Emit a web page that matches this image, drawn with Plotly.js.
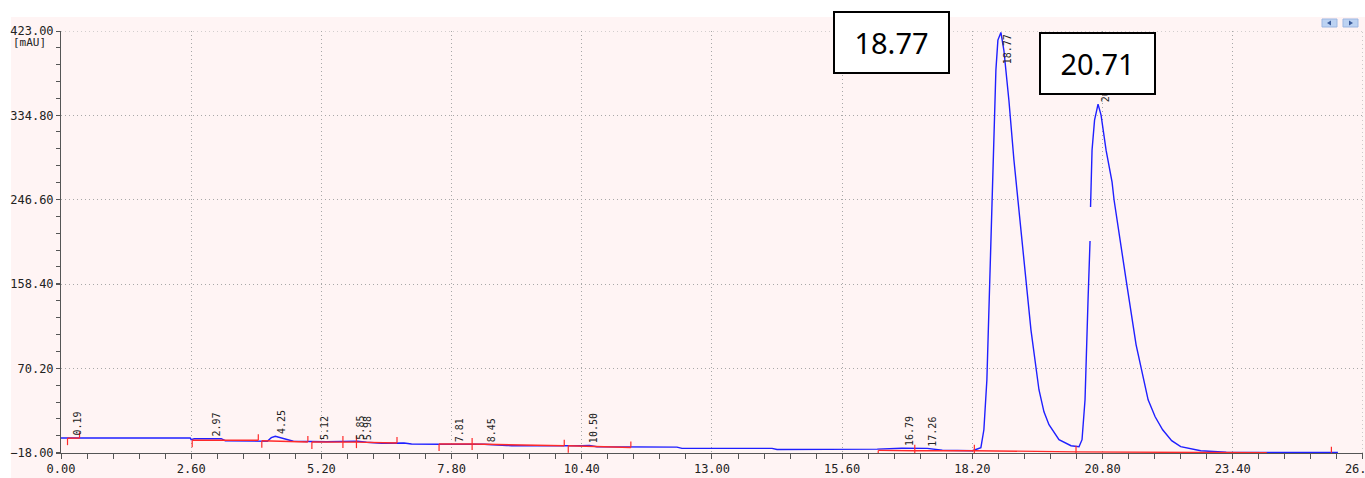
<!DOCTYPE html>
<html>
<head>
<meta charset="utf-8">
<script src="https://cdn.plot.ly/plotly-3.0.1.min.js"></script>
<style>
html,body{margin:0;padding:0;background:#ffffff;}
#chart{width:1365px;height:478px;}
</style>
</head>
<body>
<div id="chart"></div>
<script>
// ---- Chromatogram signal (time in min, absorbance in mAU) ----
const signalTime = [0.00, 2.58, 2.60, 2.66, 3.20, 3.28, 4.12, 4.20, 4.28, 4.38, 4.50, 4.64, 5.30, 5.80, 5.92, 6.10, 6.40, 6.85, 7.00, 7.60, 8.45, 8.90, 9.00, 10.40, 10.55, 10.70, 12.30, 12.40, 14.20, 14.30, 16.00, 16.30, 16.79, 17.30, 17.60, 18.20,
  18.37, 18.43, 18.49, 18.55, 18.61, 18.67, 18.71, 18.77, 18.83, 18.93, 19.03, 19.13, 19.25, 19.37, 19.53, 19.63, 19.73, 19.93, 20.17, 20.33,
  20.39, 20.45, 20.51, 20.55, null, 20.56, 20.59, 20.64, 20.71, 20.77, 20.87, 20.99, 21.03, 21.27, 21.47, 21.71, 21.85, 22.00, 22.18, 22.36, 22.76, 23.27, 24.16, 25.50];
const signalValue = [-2.3, -2.3, -4.1, -3.1, -3.1, -5.2, -5.7, -2.0, -0.5, -2.0, -3.1, -5.7, -6.2, -6.2, -5.6, -6.7, -7.8, -7.6, -8.6, -8.8, -8.8, -10.1, -10.4, -10.4, -10.0, -11.4, -11.9, -13.2, -13.2, -14.3, -14.6, -14.0, -13.0, -13.2, -15.1, -15.6,
  -12.5, 6.3, 58.5, 162.9, 288.2, 382.2, 413.5, 421.5, 402.6, 350.4, 288.2, 236.0, 173.4, 110.7, 48.1, 25.0, 11.6, -4.1, -10.4, -11.4,
  -4.1, 37.6, 142.0, 203.6, null, 239.1, 298.5, 329.9, 346.6, 335.1, 298.5, 265.1, 246.4, 162.9, 95.0, 37.6, 19.9, 6.3, -5.1, -11.4, -15.6, -17.2, -17.5, -17.5];

// ---- Integration baselines (red) ----
const baseStart      = [0.13, 2.62, 4.01, 5.01, 5.63, 5.90, 7.55, 8.21, 10.13, 16.32, 17.05, 18.24, 20.27];
const baseEnd        = [0.37, 3.94, 4.93, 5.63, 5.90, 6.71, 8.21, 10.05, 11.38, 17.05, 18.24, 20.27, 24.08];
const baseStartLevel = [-2.5, -4.6, -5.2, -6.5, -6.6, -6.6, -8.6, -8.6, -10.4, -15.3, -15.6, -15.6, -16.8];
const baseEndLevel   = [-2.5, -4.6, -6.5, -6.6, -6.6, -7.6, -8.6, -10.4, -12.2, -15.6, -15.6, -16.8, -17.8];

// ---- Peak start/end event markers ----
const eventTime  = [0.13, 0.37, 2.62, 3.94, 4.01, 4.93, 5.01, 5.63, 5.90, 6.71, 7.55, 8.21, 10.05, 10.13, 11.38, 16.32, 17.05, 18.24, 20.27, 25.37];
const eventLevel = [-2.5, -2.5, -4.6, -4.6, -5.2, -6.5, -6.5, -6.6, -6.6, -7.6, -8.6, -8.6, -10.4, -10.4, -12.2, -15.3, -15.6, -15.6, -16.8, -17.8];
const eventKind  = ["down","up","down","up","down","up","down","both","both","up","down","both","up","down","up","down","both","both","both","up"];

// ---- Peak retention time labels ----
const peakLabel  = ["0.19","2.97","4.25","5.12","5.85","5.98","7.81","8.45","10.50","16.79","17.26","18.77","20.71"];
const peakTime   = [0.19, 2.97, 4.25, 5.12, 5.85, 5.98, 7.81, 8.45, 10.50, 16.79, 17.26, 18.77, 20.71];
const peakHeight = [-2.3, -3.1, -0.5, -6.2, -6.2, -6.2, -8.7, -8.8, -10.0, -13.0, -13.2, 421.5, 346.6];

// ---- Highlighted peaks (boxed callouts) ----
const calloutLabel = ["18.77", "20.71"];

// ---- Axis ticks ----
const xTicks = [0, 2.6, 5.2, 7.8, 10.4, 13.0, 15.6, 18.2, 20.8, 23.4, 26.0];
const yTicks = [-18.0, 70.2, 158.4, 246.6, 334.8, 423.0];
const yUnit = "[mAU]";

// ---------------------------------------------------------------
const BLUE = "#1f1fff";
const RED = "#ff2a2a";

const redX = [], redY = [];
for (let i = 0; i < baseStart.length; i++) {
  redX.push(baseStart[i], baseEnd[i], null);
  redY.push(baseStartLevel[i], baseEndLevel[i], null);
}
const tickX = [], tickY = [];
const UP = 6.3, DOWN = 7.3;
for (let i = 0; i < eventTime.length; i++) {
  const lv = eventLevel[i];
  let a = lv, b = lv;
  if (eventKind[i] === "up") { b = lv + UP; }
  else if (eventKind[i] === "down") { b = lv - DOWN; }
  else { a = lv - UP; b = lv + UP; }
  tickX.push(eventTime[i], eventTime[i], null);
  tickY.push(a, b, null);
}

const traces = [
  {x: signalTime, y: signalValue, type: "scatter", mode: "lines",
   line: {color: BLUE, width: 1.4}, connectgaps: false, hoverinfo: "skip", showlegend: false},
  {x: redX, y: redY, type: "scatter", mode: "lines",
   line: {color: RED, width: 1.4}, hoverinfo: "skip", showlegend: false},
  {x: tickX, y: tickY, type: "scatter", mode: "lines",
   line: {color: RED, width: 1.2}, hoverinfo: "skip", showlegend: false}
];

const yTop = yTicks[yTicks.length - 1];
const xEnd = xTicks[xTicks.length - 1];
const annotations = [];
for (let i = 0; i < peakTime.length; i++) {
  const nearTop = peakHeight[i] > 0.9 * yTop;
  annotations.push({
    x: peakTime[i], y: peakHeight[i], xref: "x", yref: "y",
    text: peakLabel[i], textangle: -90, showarrow: false,
    xanchor: "center", yanchor: nearTop ? "top" : "bottom",
    xshift: 7, yshift: nearTop ? -1 : 1, borderpad: 0,
    font: {family: "DejaVu Sans Mono", size: 10, color: "#222222"}
  });
}
const calloutOffsets = [[-109.5, -10.5], [-1, 40.5]];
calloutLabel.forEach((lab, k) => {
  const i = peakLabel.indexOf(lab);
  annotations.push({
    x: peakTime[i], y: peakHeight[i], xref: "x", yref: "y",
    text: lab, showarrow: false, xanchor: "center", yanchor: "middle",
    xshift: calloutOffsets[k][0], yshift: calloutOffsets[k][1],
    width: 113, height: 59, borderpad: 0,
    bgcolor: "#ffffff", bordercolor: "#000000", borderwidth: 2,
    font: {family: "Noto Sans", size: 29, color: "#000000"}
  });
});
annotations.push({
  x: 0, y: 1, xref: "paper", yref: "paper", text: yUnit, showarrow: false,
  xanchor: "right", yanchor: "top", xshift: -13, yshift: -3,
  font: {family: "DejaVu Sans Mono", size: 11, color: "#222222"}
});

const L = 61, R = 2, T = 31, B = 25, W = 1365, H = 478;
const pw = W - L - R, ph = H - T - B;
const px = v => (v - L) / pw;
const py = v => (H - B - v) / ph;

const shapes = [
  {type: "rect", xref: "paper", yref: "paper", x0: px(0), x1: px(W), y0: py(17), y1: py(0),
   fillcolor: "#ffffff", line: {width: 0}, layer: "below"},
  {type: "rect", xref: "paper", yref: "paper", x0: px(0), x1: px(11), y0: py(H), y1: py(0),
   fillcolor: "#ffffff", line: {width: 0}, layer: "below"},
  {type: "rect", xref: "paper", yref: "paper", x0: px(1322), x1: px(1337), y0: py(27), y1: py(19),
   fillcolor: "#bcd2f2", line: {color: "#9db7e2", width: 1}},
  {type: "rect", xref: "paper", yref: "paper", x0: px(1343), x1: px(1358), y0: py(27), y1: py(19),
   fillcolor: "#bcd2f2", line: {color: "#9db7e2", width: 1}},
  {type: "path", xref: "paper", yref: "paper",
   path: `M ${px(1331)} ${py(20.5)} L ${px(1327)} ${py(23)} L ${px(1331)} ${py(25.5)} Z`,
   fillcolor: "#3a5a9a", line: {width: 0}},
  {type: "path", xref: "paper", yref: "paper",
   path: `M ${px(1349)} ${py(20.5)} L ${px(1353)} ${py(23)} L ${px(1349)} ${py(25.5)} Z`,
   fillcolor: "#3a5a9a", line: {width: 0}},
  {type: "line", xref: "x", yref: "paper", x0: xEnd, x1: xEnd, y0: 0, y1: 1,
   line: {color: "#a8a8a8", width: 1, dash: "1px,3px"}},
  {type: "line", xref: "paper", yref: "y", x0: 0, x1: 1, y0: yTop, y1: yTop,
   line: {color: "#a8a8a8", width: 1, dash: "1px,3px"}}
];

const gridStyle = {color: "#a8a8a8", dash: "1px,3px"};
const layout = {
  width: W, height: H,
  margin: {l: L, r: R, t: T, b: B, pad: 0},
  paper_bgcolor: "#fff4f4", plot_bgcolor: "#fff4f4",
  showlegend: false,
  xaxis: {
    range: [xTicks[0], xEnd + 0.001], tickmode: "array", tickvals: xTicks,
    tickformat: ".2f", ticks: "outside", ticklen: 5, tickwidth: 1, tickcolor: "#555555",
    ticklabeloverflow: "allow",
    showline: true, linecolor: "#555555", linewidth: 1,
    showgrid: true, gridcolor: gridStyle.color, griddash: gridStyle.dash, gridwidth: 1,
    zeroline: false, fixedrange: true,
    minor: {dtick: 0.52, ticks: "outside", ticklen: 5, tickwidth: 1, tickcolor: "#555555", showgrid: false},
    tickfont: {family: "DejaVu Sans Mono", size: 12, color: "#222222"}
  },
  yaxis: {
    range: [yTicks[0], yTop + 0.01], tickmode: "array", tickvals: yTicks,
    tickformat: ".2f", ticks: "outside", ticklen: 4, tickwidth: 1, tickcolor: "#555555",
    ticklabeloverflow: "allow",
    showline: true, linecolor: "#555555", linewidth: 1,
    showgrid: true, gridcolor: gridStyle.color, griddash: gridStyle.dash, gridwidth: 1,
    zeroline: false, fixedrange: true,
    minor: {dtick: 17.64, ticks: "outside", ticklen: 4, tickwidth: 1, tickcolor: "#555555", showgrid: false},
    tickfont: {family: "DejaVu Sans Mono", size: 12, color: "#222222"}
  },
  annotations: annotations,
  shapes: shapes
};

Plotly.newPlot("chart", traces, layout, {staticPlot: true, displayModeBar: false});
</script>
</body>
</html>
